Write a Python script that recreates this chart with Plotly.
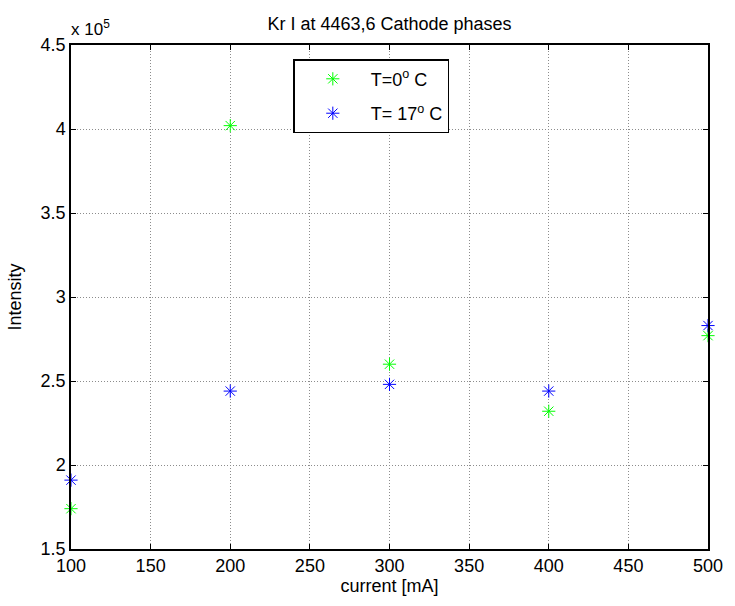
import plotly.graph_objects as go

current = [100, 200, 300, 400, 500]
intensity_0C = [1.74e5, 4.02e5, 2.60e5, 2.32e5, 2.77e5]
intensity_17C = [1.91e5, 2.44e5, 2.48e5, 2.44e5, 2.83e5]
series_names = ["T=0<sup>o</sup> C", "T= 17<sup>o</sup> C"]
x_ticks = [100, 150, 200, 250, 300, 350, 400, 450, 500]
y_ticks = [1.5e5, 2e5, 2.5e5, 3e5, 3.5e5, 4e5, 4.5e5]
y_tick_text = ["1.5", "2", "2.5", "3", "3.5", "4", "4.5"]

font = "Liberation Sans, Arial, sans-serif"

fig = go.Figure()
for i, (y, name, color) in enumerate([(intensity_0C, series_names[0], "#00ff00"),
                                      (intensity_17C, series_names[1], "#0000ff")]):
    fig.add_trace(go.Scatter(
        x=current, y=y, mode="markers", name=name, cliponaxis=False,
        legendgroup=f"g{i}",
        marker=dict(symbol="asterisk-open", size=11, color=color,
                    line=dict(color=color, width=1)),
    ))

axis_common = dict(
    showline=True, linecolor="black", linewidth=1.5, mirror="allticks",
    ticks="inside", ticklen=5, tickcolor="black",
    showgrid=True, gridcolor="#8c8c8c", griddash="1px,2px", gridwidth=1,
    zeroline=False, tickfont=dict(family=font, size=18, color="black"),
)

fig.update_xaxes(range=[100, 500], tickvals=x_ticks,
                 title=dict(text="current [mA]", font=dict(family=font, size=18, color="black"), standoff=4),
                 **axis_common)
fig.update_yaxes(range=[1.5e5, 4.5e5], tickvals=y_ticks, ticktext=y_tick_text,
                 title=dict(text="Intensity", font=dict(family=font, size=18, color="black"), standoff=14),
                 **axis_common)

fig.add_annotation(xref="paper", yref="paper", x=0, y=1, xanchor="left", yanchor="bottom",
                   text="x 10<sup>5</sup>", showarrow=False, yshift=4, xshift=-2,
                   font=dict(family=font, size=17, color="black"))

fig.update_layout(
    width=735, height=606,
    margin=dict(l=71, r=20, t=45, b=57),
    paper_bgcolor="white", plot_bgcolor="white",
    title=dict(text="Kr I at 4463,6 Cathode phases", x=0.5, xref="paper", xanchor="center",
               y=1, yref="paper", yanchor="bottom", pad=dict(b=15),
               font=dict(family=font, size=18, color="black")),
    legend=dict(x=0.349, y=0.972, xanchor="left", yanchor="top",
                bgcolor="white", bordercolor="black", borderwidth=1.5,
                font=dict(family=font, size=18, color="black"),
                itemwidth=66, tracegroupgap=8),
    showlegend=True,
)

fig.write_html("out.html")
